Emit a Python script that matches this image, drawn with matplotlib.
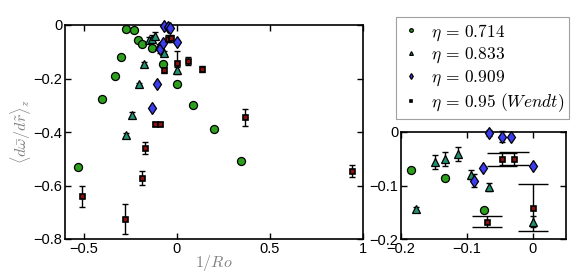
import matplotlib
matplotlib.use("Agg")
import matplotlib.pyplot as plt
import numpy as np

plt.rcParams['font.family'] = ['Liberation Sans', 'DejaVu Sans']
plt.rcParams['mathtext.fontset'] = 'cm'

# eta = 0.714 (green circles)
x_714 = [-0.53, -0.40, -0.33, -0.30, -0.27, -0.23, -0.21, -0.185, -0.133, -0.074, 0.0, 0.09, 0.20, 0.345]
y_714 = [-0.53, -0.275, -0.19, -0.12, -0.015, -0.02, -0.055, -0.072, -0.086, -0.146, -0.22, -0.30, -0.39, -0.51]
e_714 = [0.0, 0.0, 0.0, 0.0, 0.0, 0.0, 0.0, 0.0, 0.0, 0.0, 0.0, 0.0, 0.0, 0.0]

# eta = 0.833 (teal triangles)
x_833 = [-0.27, -0.24, -0.20, -0.177, -0.149, -0.133, -0.114, -0.093, -0.066, 0.0]
y_833 = [-0.41, -0.335, -0.22, -0.144, -0.056, -0.051, -0.041, -0.080, -0.103, -0.167]
e_833 = [0.008, 0.008, 0.005, 0.004, 0.013, 0.013, 0.013, 0.008, 0.007, 0.01]

# eta = 0.909 (blue diamonds)
x_909 = [-0.133, -0.104, -0.089, -0.075, -0.066, -0.046, -0.033, 0.0]
y_909 = [-0.31, -0.22, -0.091, -0.068, -0.002, -0.009, -0.010, -0.064]
e_909 = [0.0, 0.0, 0.012, 0.0, 0.006, 0.01, 0.0, 0.0]

# eta = 0.95 (Wendt) (dark red squares)
x_95 = [-0.51, -0.28, -0.187, -0.168, -0.118, -0.09, -0.069, -0.046, -0.028, 0.0, 0.06, 0.136, 0.366, 0.94]
y_95 = [-0.64, -0.725, -0.573, -0.46, -0.37, -0.37, -0.167, -0.051, -0.050, -0.141, -0.135, -0.165, -0.345, -0.547]
e_95 = [0.04, 0.055, 0.026, 0.023, 0.008, 0.008, 0.011, 0.012, 0.012, 0.043, 0.015, 0.012, 0.031, 0.023]

labels = [r'$\eta\,=\,0.714$', r'$\eta\,=\,0.833$', r'$\eta\,=\,0.909$', r'$\eta\,=\,0.95\ (Wendt)$']

c_green = '#2ca01c'
c_teal = '#239072'
c_blue = '#3b3bf0'
c_red = '#8b1010'

series = [
    (x_714, y_714, e_714, 'o', c_green, 5.8, 0.9),
    (x_833, y_833, e_833, '^', c_teal, 6.0, 0.9),
    (x_909, y_909, e_909, 'd', c_blue, 6.6, 0.9),
    (x_95, y_95, e_95, 's', c_red, 3.6, 1.2),
]

fig = plt.figure(figsize=(5.81, 2.80), dpi=100)
ax = fig.add_axes([65/581, 1-239/280, 297.7/581, 214/280])
ins = fig.add_axes([401/581, 1-239.3/280, 164.7/581, 107.6/280])

def draw(a, xlim, ylim, capsq):
    handles = []
    for i, (xs, ys, es, m, c, ms, mew) in enumerate(series):
        xs = np.asarray(xs); ys = np.asarray(ys); es = np.asarray(es)
        keep = (xs >= xlim[0]) & (xs <= xlim[1]) & (ys >= ylim[0] - 0.005) & (ys <= ylim[1])
        xs, ys, es = xs[keep], ys[keep], es[keep]
        ek = es > 0
        cap = capsq if m == 's' else 2.5
        if ek.any():
            a.errorbar(xs[ek], ys[ek], yerr=es[ek], fmt='none', ecolor='black', elinewidth=1.0,
                       capsize=cap, capthick=1.0, zorder=2, clip_on=False)
        h, = a.plot(xs, ys, linestyle='none', marker=m, markersize=ms,
                    markerfacecolor=c, markeredgecolor='black', markeredgewidth=mew,
                    zorder=3, label=labels[i], clip_on=False)
        handles.append(h)
    a.set_xlim(*xlim)
    a.set_ylim(*ylim)
    return handles

handles = draw(ax, (-0.6, 1.0), (-0.8, 0.0), 2.5)
draw(ins, (-0.2, 0.05), (-0.2, 0.0), 11)

for a in (ax, ins):
    a.tick_params(direction='in', top=True, right=True, length=4, width=1,
                  labelsize=10.5, pad=2)
    for s in a.spines.values():
        s.set_linewidth(1.2)

ax.set_xticks([-0.5, 0, 0.5, 1])
ax.set_xticklabels(['\u22120.5', '0', '0.5', '1'])
ax.set_yticks([-0.8, -0.6, -0.4, -0.2, 0])
ax.set_yticklabels(['\u22120.8', '\u22120.6', '\u22120.4', '\u22120.2', '0'])
ax.set_xlabel(r'$1/Ro$', color='#808080', fontsize=11.5, labelpad=-2)
ax.set_ylabel(r'$\langle d\bar{\omega}/d\tilde{r}\rangle_z$', color='#808080', fontsize=11.5, labelpad=0)

ins.set_xticks([-0.2, -0.1, 0])
ins.set_xticklabels(['\u22120.2', '\u22120.1', '0'])
ins.set_yticks([-0.2, -0.1, 0])
ins.set_yticklabels(['\u22120.2', '\u22120.1', '0'])

leg = fig.legend(handles=handles, loc='upper left',
                 bbox_to_anchor=(396/581, 1-17/280), bbox_transform=fig.transFigure,
                 markerscale=0.45, fontsize=12.5, frameon=True, fancybox=False,
                 edgecolor='#888888', borderpad=0.3, labelspacing=0.18,
                 handlelength=1.1, handletextpad=0.6, borderaxespad=0)
leg.get_frame().set_linewidth(0.8)

fig.savefig('out.png', dpi=100)
